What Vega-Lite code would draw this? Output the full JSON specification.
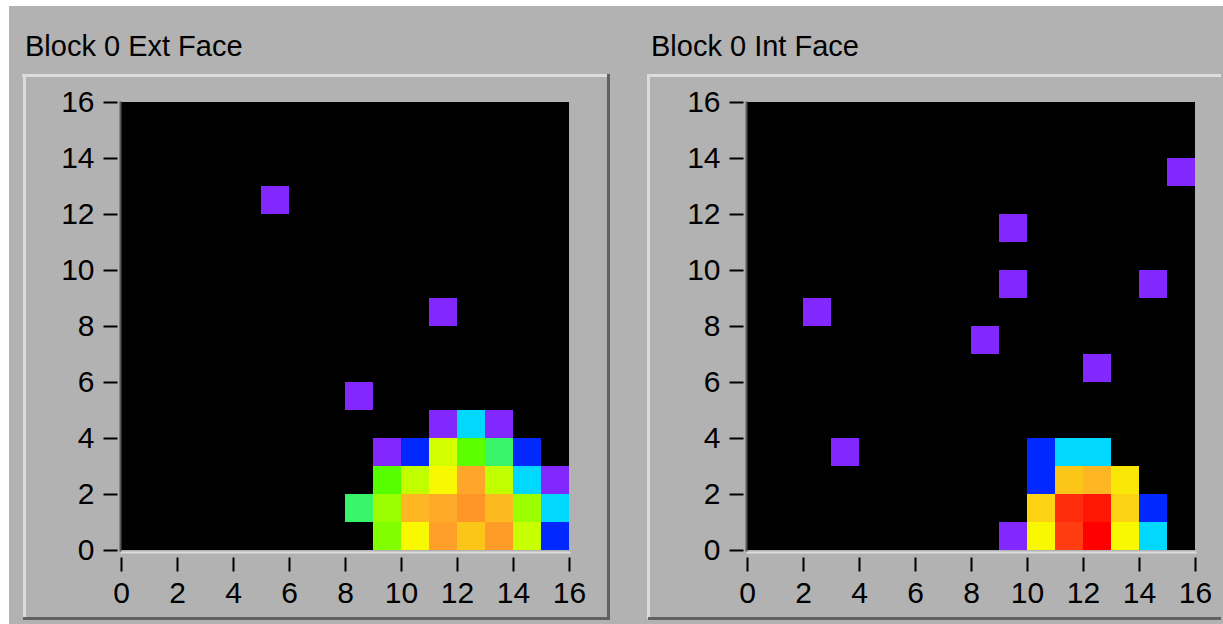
{
  "$schema": "https://vega.github.io/schema/vega-lite/v6.json",
  "background": "#b2b2b2",
  "padding": 0,
  "bounds": "flush",
  "spacing": 178,
  "datasets": {
    "ext": [
      {"x": 5.5, "y": 12.5, "v": 1},
      {"x": 11.5, "y": 8.5, "v": 1},
      {"x": 8.5, "y": 5.5, "v": 1},
      {"x": 11.5, "y": 4.5, "v": 1},
      {"x": 12.5, "y": 4.5, "v": 3},
      {"x": 13.5, "y": 4.5, "v": 1},
      {"x": 9.5, "y": 3.5, "v": 1},
      {"x": 10.5, "y": 3.5, "v": 2},
      {"x": 11.5, "y": 3.5, "v": 7},
      {"x": 12.5, "y": 3.5, "v": 5.1},
      {"x": 13.5, "y": 3.5, "v": 4},
      {"x": 14.5, "y": 3.5, "v": 2},
      {"x": 9.5, "y": 2.5, "v": 5},
      {"x": 10.5, "y": 2.5, "v": 6.7},
      {"x": 11.5, "y": 2.5, "v": 8},
      {"x": 12.5, "y": 2.5, "v": 10},
      {"x": 13.5, "y": 2.5, "v": 6.7},
      {"x": 14.5, "y": 2.5, "v": 3},
      {"x": 15.5, "y": 2.5, "v": 1},
      {"x": 8.5, "y": 1.5, "v": 4},
      {"x": 9.5, "y": 1.5, "v": 6.1},
      {"x": 10.5, "y": 1.5, "v": 9.6},
      {"x": 11.5, "y": 1.5, "v": 9.9},
      {"x": 12.5, "y": 1.5, "v": 11},
      {"x": 13.5, "y": 1.5, "v": 9.5},
      {"x": 14.5, "y": 1.5, "v": 6.1},
      {"x": 15.5, "y": 1.5, "v": 3},
      {"x": 9.5, "y": 0.5, "v": 5.7},
      {"x": 10.5, "y": 0.5, "v": 8},
      {"x": 11.5, "y": 0.5, "v": 10.4},
      {"x": 12.5, "y": 0.5, "v": 9.2},
      {"x": 13.5, "y": 0.5, "v": 10.7},
      {"x": 14.5, "y": 0.5, "v": 6.8},
      {"x": 15.5, "y": 0.5, "v": 2}
    ],
    "int": [
      {"x": 15.5, "y": 13.5, "v": 1},
      {"x": 9.5, "y": 11.5, "v": 1},
      {"x": 9.5, "y": 9.5, "v": 1},
      {"x": 14.5, "y": 9.5, "v": 1},
      {"x": 2.5, "y": 8.5, "v": 1},
      {"x": 8.5, "y": 7.5, "v": 1},
      {"x": 12.5, "y": 6.5, "v": 1},
      {"x": 3.5, "y": 3.5, "v": 1},
      {"x": 10.5, "y": 3.5, "v": 2},
      {"x": 11.5, "y": 3.5, "v": 3},
      {"x": 12.5, "y": 3.5, "v": 3},
      {"x": 10.5, "y": 2.5, "v": 2},
      {"x": 11.5, "y": 2.5, "v": 9.2},
      {"x": 12.5, "y": 2.5, "v": 9.6},
      {"x": 13.5, "y": 2.5, "v": 8.4},
      {"x": 10.5, "y": 1.5, "v": 8.9},
      {"x": 11.5, "y": 1.5, "v": 12.4},
      {"x": 12.5, "y": 1.5, "v": 12.7},
      {"x": 13.5, "y": 1.5, "v": 8.9},
      {"x": 14.5, "y": 1.5, "v": 2},
      {"x": 9.5, "y": 0.5, "v": 1},
      {"x": 10.5, "y": 0.5, "v": 8},
      {"x": 11.5, "y": 0.5, "v": 12.2},
      {"x": 12.5, "y": 0.5, "v": 13},
      {"x": 13.5, "y": 0.5, "v": 8},
      {"x": 14.5, "y": 0.5, "v": 3}
    ]
  },
  "config": {
    "view": {"stroke": null, "fill": "#000000"},
    "axis": {"grid": false, "title": null, "labelFont": "Liberation Sans", "labelFontSize": 30, "labelColor": "#000000", "labelFontWeight": "normal", "tickColor": "#000000", "tickWidth": 2, "domainWidth": 2, "domainCap": "square", "labelOverlap": false, "labelFlush": false},
    "title": {"font": "Liberation Sans", "fontSize": 29, "fontWeight": "normal", "color": "#000000", "anchor": "start", "frame": "group", "baseline": "alphabetic", "dx": -96, "offset": -62}
  },
  "hconcat": [
    {
      "width": 448,
      "height": 448,
      "title": {"text": "Block 0 Ext Face"},
      "resolve": {"axis": {"x": "independent", "y": "independent"}},
      "layer": [
        {
          "data": {"name": "ext"},
          "transform": [{"aggregate": [{"op": "count", "as": "n"}]}],
          "layer": [
            {
              "mark": {"type": "rect", "color": "#ffffff", "clip": false},
              "encoding": {
                "x": {"datum": -4.3214, "type": "quantitative", "scale": {"domain": [0, 16], "nice": false, "zero": false}, "axis": {"orient": "top", "offset": 1, "domainColor": "#585858", "ticks": false, "labels": false, "values": [0, 16]}},
                "x2": {"datum": 39.35},
                "y": {"datum": 19.6428, "type": "quantitative", "scale": {"domain": [0, 16], "nice": false, "zero": false}, "axis": {"orient": "right", "offset": 2, "domainColor": "#dcdcdc", "ticks": false, "labels": false, "values": [0, 16]}},
                "y2": {"datum": 19.4286}
              }
            },
            {
              "mark": {"type": "rect", "color": "#ffffff", "clip": false},
              "encoding": {
                "x": {"datum": -4.3214, "type": "quantitative", "axis": null},
                "x2": {"datum": -4.0},
                "y": {"datum": 19.6428, "type": "quantitative", "axis": null},
                "y2": {"datum": -2.64}
              }
            },
            {
              "mark": {"type": "rule", "color": "#dcdcdc", "strokeWidth": 3, "clip": false},
              "encoding": {
                "x": {"datum": -3.5357, "type": "quantitative", "axis": null},
                "x2": {"datum": 17.3929},
                "y": {"datum": 16.9464, "type": "quantitative", "axis": null}
              }
            },
            {
              "mark": {"type": "rule", "color": "#dcdcdc", "strokeWidth": 3, "clip": false},
              "encoding": {
                "x": {"datum": -3.4464, "type": "quantitative", "axis": null},
                "y": {"datum": 16.9643, "type": "quantitative", "axis": null},
                "y2": {"datum": -2.4643}
              }
            },
            {
              "mark": {"type": "rule", "color": "#606060", "strokeWidth": 3, "clip": false},
              "encoding": {
                "x": {"datum": 17.4107, "type": "quantitative", "axis": null},
                "y": {"datum": 17.0, "type": "quantitative", "axis": null},
                "y2": {"datum": -2.5}
              }
            },
            {
              "mark": {"type": "rule", "color": "#606060", "strokeWidth": 3, "clip": false},
              "encoding": {
                "x": {"datum": -3.5, "type": "quantitative", "axis": null},
                "x2": {"datum": 17.4643},
                "y": {"datum": -2.4464, "type": "quantitative", "axis": null}
              }
            }
          ]
        },
        {
          "data": {"name": "ext"},
          "mark": {"type": "rect", "width": 28, "height": 28},
          "encoding": {
            "x": {"field": "x", "type": "quantitative", "axis": {"orient": "bottom", "offset": 2, "domainColor": "#dcdcdc", "values": [0, 2, 4, 6, 8, 10, 12, 14, 16], "tickSize": 19, "tickDash": [0, 5, 14, 100], "labelPadding": 7}},
            "y": {"field": "y", "type": "quantitative", "axis": {"orient": "left", "offset": 1, "domainColor": "#585858", "values": [0, 2, 4, 6, 8, 10, 12, 14, 16], "tickSize": 17, "tickDash": [0, 3, 14, 100], "labelPadding": 9}},
            "color": {"field": "v", "type": "quantitative", "legend": null, "scale": {"type": "linear", "domain": [1, 2, 3, 4, 5, 7, 8, 10, 11, 13], "range": ["#8228ff", "#0028ff", "#00d8ff", "#38f56a", "#55ff00", "#d4ff00", "#f8f800", "#ffa52a", "#ff9628", "#ff0000"], "interpolate": "rgb"}}
          }
        }
      ]
    },
    {
      "width": 448,
      "height": 448,
      "title": {"text": "Block 0 Int Face"},
      "resolve": {"axis": {"x": "independent", "y": "independent"}},
      "layer": [
        {
          "data": {"name": "int"},
          "transform": [{"aggregate": [{"op": "count", "as": "n"}]}],
          "layer": [
            {
              "mark": {"type": "rect", "color": "#ffffff", "clip": false},
              "encoding": {
                "x": {"datum": -5.25, "type": "quantitative", "scale": {"domain": [0, 16], "nice": false, "zero": false}, "axis": {"orient": "top", "offset": 1, "domainColor": "#585858", "ticks": false, "labels": false, "values": [0, 16]}},
                "x2": {"datum": 16.99},
                "y": {"datum": 19.6428, "type": "quantitative", "scale": {"domain": [0, 16], "nice": false, "zero": false}, "axis": {"orient": "right", "offset": 2, "domainColor": "#dcdcdc", "ticks": false, "labels": false, "values": [0, 16]}},
                "y2": {"datum": 19.4286}
              }
            },
            {
              "mark": {"type": "rule", "color": "#dcdcdc", "strokeWidth": 3, "clip": false},
              "encoding": {
                "x": {"datum": -3.5714, "type": "quantitative", "axis": null},
                "x2": {"datum": 16.9286},
                "y": {"datum": 16.9464, "type": "quantitative", "axis": null}
              }
            },
            {
              "mark": {"type": "rule", "color": "#dcdcdc", "strokeWidth": 3, "clip": false},
              "encoding": {
                "x": {"datum": -3.5179, "type": "quantitative", "axis": null},
                "y": {"datum": 16.9643, "type": "quantitative", "axis": null},
                "y2": {"datum": -2.4643}
              }
            },
            {
              "mark": {"type": "rule", "color": "#606060", "strokeWidth": 3, "clip": false},
              "encoding": {
                "x": {"datum": -3.5357, "type": "quantitative", "axis": null},
                "x2": {"datum": 16.9286},
                "y": {"datum": -2.4464, "type": "quantitative", "axis": null}
              }
            }
          ]
        },
        {
          "data": {"name": "int"},
          "mark": {"type": "rect", "width": 28, "height": 28},
          "encoding": {
            "x": {"field": "x", "type": "quantitative", "axis": {"orient": "bottom", "offset": 2, "domainColor": "#dcdcdc", "values": [0, 2, 4, 6, 8, 10, 12, 14, 16], "tickSize": 19, "tickDash": [0, 5, 14, 100], "labelPadding": 7}},
            "y": {"field": "y", "type": "quantitative", "axis": {"orient": "left", "offset": 1, "domainColor": "#585858", "values": [0, 2, 4, 6, 8, 10, 12, 14, 16], "tickSize": 17, "tickDash": [0, 3, 14, 100], "labelPadding": 9}},
            "color": {"field": "v", "type": "quantitative", "legend": null, "scale": {"type": "linear", "domain": [1, 2, 3, 4, 5, 7, 8, 10, 11, 13], "range": ["#8228ff", "#0028ff", "#00d8ff", "#38f56a", "#55ff00", "#d4ff00", "#f8f800", "#ffa52a", "#ff9628", "#ff0000"], "interpolate": "rgb"}}
          }
        }
      ]
    }
  ]
}
